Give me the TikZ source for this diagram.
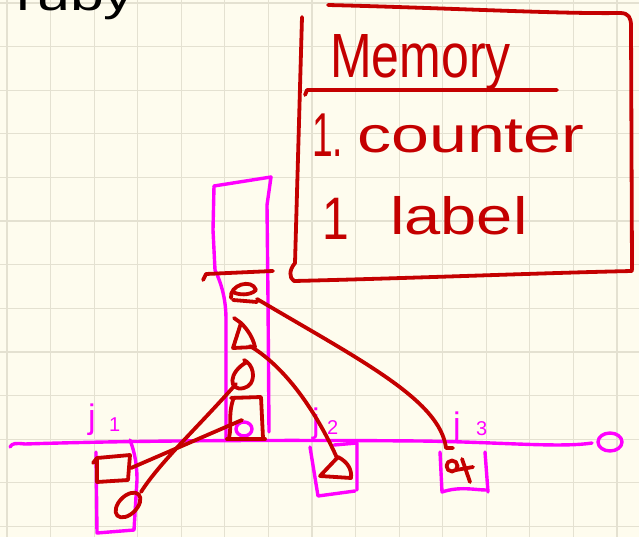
\documentclass[tikz,border=0pt]{standalone}
\usepackage{fontspec}
\setmainfont{Liberation Sans}
\usepackage{graphicx}
\definecolor{paper}{HTML}{FEFCEE}
\definecolor{gridc}{HTML}{E4E1D1}
\definecolor{ink}{HTML}{C40000}
\definecolor{pinkc}{HTML}{FF00FF}
\tikzset{
  redline/.style={draw=ink, line width=3.8pt, line cap=round, line join=round},
  pinkline/.style={draw=pinkc, line width=3.4pt, line cap=round, line join=round},
  gridline/.style={draw=gridc, line width=1.2pt},
  memtext/.style={text=ink, inner sep=0pt, anchor=base west},
  jlabel/.style={text=pinkc, inner sep=0pt, anchor=base west, font=\fontsize{34}{34}\selectfont},
  jsub/.style={text=pinkc, inner sep=0pt, anchor=base west, font=\fontsize{20}{20}\selectfont},
}
\begin{document}
\begin{tikzpicture}[x=1pt,y=-1pt]
\useasboundingbox (0,0) rectangle (639,537);
\clip (0,0) rectangle (639,537);
\fill[paper] (0,0) rectangle (639,537);
\foreach \i in {0,...,14} \draw[gridline] ({7+43.57*\i},0) -- ({7+43.57*\i},537);
\foreach \i in {0,...,12} \draw[gridline] (0,{3.1+43.6*\i}) -- (639,{3.1+43.6*\i});

% title (cut off at top)
\node[anchor=base west, inner sep=0pt, font=\fontsize{45}{45}\selectfont] (title) at (16,11) {\scalebox{1.35}[1]{ruby}};

% memory box
\draw[redline] (328,5) .. controls (450,8) and (560,14) .. (620,13) .. controls (629,13) and (631,18) .. (631,26) -- (632,270);
\draw[redline] (302,17) -- (295,263) .. controls (289,270) and (289,278) .. (294,281) .. controls (420,278) and (540,273) .. (632,271);
\draw[redline] (305,95) -- (307,90) -- (557,90);
\node[memtext, font=\fontsize{50}{50}\selectfont] (mtitle) at (330,78) {\scalebox{1.0}[1.25]{Memory}};
\node[memtext, font=\fontsize{62}{62}\selectfont] (n1) at (312,157) {\scalebox{0.6}[1]{1.}};
\node[memtext, font=\fontsize{48}{48}\selectfont] (counter) at (357,153) {\scalebox{1.42}[1.05]{counter}};
\node[memtext, font=\fontsize{60}{60}\selectfont] (n2) at (322,240) {\scalebox{0.8}[1]{1}};
\node[memtext, font=\fontsize{50}{50}\selectfont] (label) at (390,234) {\scalebox{1.3}[1.05]{label}};

% axis and end circle
\draw[pinkline] (10,447) .. controls (12,443) and (16,443) .. (25,444) .. controls (150,440) and (300,440) .. (420,441) .. controls (500,442) and (560,448) .. (592,443);
\draw[pinkline] (610,442) ellipse[x radius=12, y radius=9];

% stack
\draw[pinkline] (214,186) -- (271,177);
\draw[pinkline] (214,186) -- (213,230) -- (215,270) .. controls (222,285) and (226,300) .. (226,320) -- (226,440);
\draw[pinkline] (271,177) -- (267,205) -- (268,300) -- (269,432);
\draw[pinkline] (244,429) ellipse[x radius=8, y radius=7];

% j labels
\node[jlabel] (j1) at (88,428) {j};
\node[jsub] (j1s) at (109,431) {1};
\node[jlabel] (j2) at (312,432) {j};
\node[jsub] (j2s) at (327,434) {2};
\node[jlabel] (j3) at (453,436) {j};
\node[jsub] (j3s) at (476,435) {3};

% boxes under axis
\draw[pinkline] (96,452) -- (97,533) -- (134,530) -- (137,480) .. controls (137,460) and (133,448) .. (130,440);
\draw[pinkline] (310,447) -- (318,496) -- (355,491);
\draw[pinkline] (334,445) -- (357,443) -- (357,490);
\draw[pinkline] (440,452) -- (442,492) .. controls (460,486) and (475,490) .. (486,490);
\draw[pinkline] (485,452) -- (488,492);

% stack contents
\draw[redline] (203,280) -- (206,274) -- (273,271);
\draw[redline] (231,298) .. controls (229,285) and (252,278) .. (256,290) .. controls (250,296) and (238,295) .. (233,292);
\draw[redline] (233,300) -- (257,302);
\draw[redline] (234,318) -- (241,323) -- (233,348) -- (255,347) .. controls (253,338) and (248,330) .. (241,323);
\draw[redline] (244,360) -- (247,362) .. controls (228,372) and (228,392) .. (244,388) .. controls (256,385) and (255,368) .. (247,362);
\draw[redline] (231,398) -- (261,397) -- (263,438);
\draw[redline] (227,439) -- (265,439);
\draw[redline] (233,400) .. controls (228,415) and (232,425) .. (229,438);

% items in j boxes
\draw[redline] (93,463) -- (97,458) -- (130,455) -- (128,480) -- (97,482) -- (97,460);
\draw[redline, rotate around={45:(128,505)}] (128,505) ellipse[x radius=15, y radius=9];
\draw[redline] (320,476) -- (338,457) .. controls (348,462) and (352,470) .. (351,478) -- cycle;
\draw[redline] (452,466) circle[radius=5.5];
\draw[redline] (462,459) -- (470,482);
\draw[redline] (456,470) -- (473,467);

% connector end points
\coordinate (top) at (257,299);
\coordinate (tri) at (250,346);
\coordinate (drop) at (236,384);
\coordinate (rect) at (242,420);
\coordinate (sq) at (131,468);
\coordinate (ell) at (141,492);
\coordinate (t2) at (337,458);
\coordinate (t3) at (446,448);

% connectors
\draw[redline] (top) .. controls (360,360) and (440,400) .. (t3) -- ++(7,0);
\draw[redline] (tri) .. controls (290,370) and (320,420) .. (t2);
\draw[redline] (ell) .. controls (160,462) and (200,425) .. (drop);
\draw[redline] (sq) -- (rect);
\end{tikzpicture}
\end{document}
